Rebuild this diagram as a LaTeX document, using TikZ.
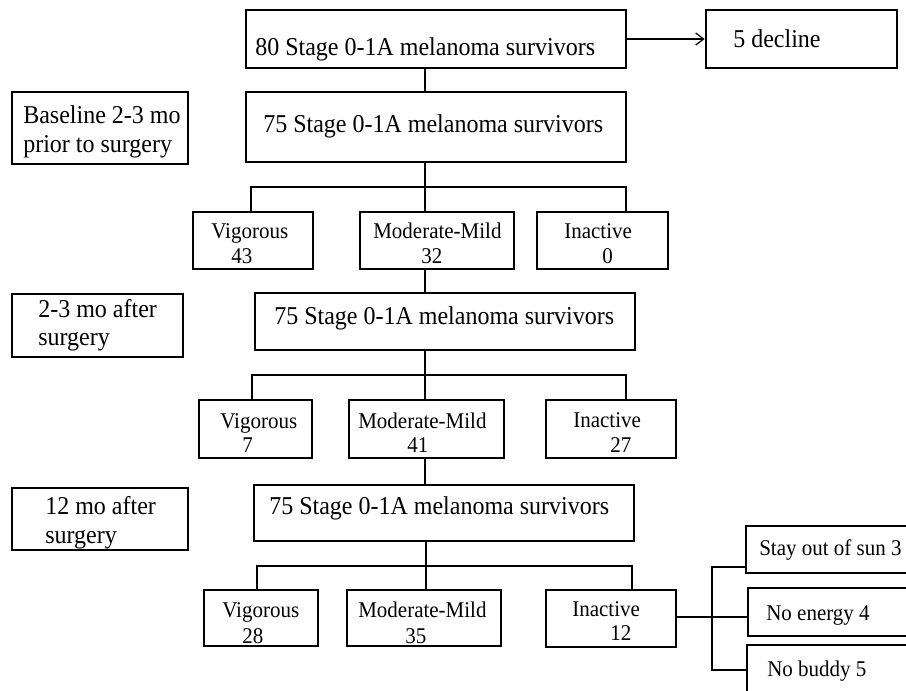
\documentclass[tikz,border=0pt]{standalone}
\usepackage{fontspec}
\usepackage{graphicx}
\setmainfont{Liberation Serif}
\usetikzlibrary{arrows.meta}
\newcommand\talltext[1]{\scalebox{1}[1.07]{#1}}
\begin{document}
\begin{tikzpicture}[x=0.75pt,y=-0.75pt,
  box/.style n args={2}{draw, line width=1.9pt, inner sep=0pt, minimum width=#1*0.75pt, minimum height=#2*0.75pt},
  conn/.style={line width=0.95pt},
  bigtxt/.style={anchor=base west, inner sep=0pt, font=\fontsize{18pt}{21pt}\selectfont},
  smalltxt/.style={anchor=base west, inner sep=0pt, font=\fontsize{15.75pt}{19pt}\selectfont}]
\useasboundingbox[fill=white] (0,0) rectangle (906,690);

% boxes
\node[box={380}{58}] (A) at (436,39) {};
\node[box={191}{58}] (decl) at (801.5,39) {};
\node[box={380}{70}] (B) at (436,127) {};
\node[box={176}{72}] (base) at (100,128) {};
\node[box={120}{57}] (V1) at (253,240.5) {};
\node[box={154}{57}] (M1) at (437,240.5) {};
\node[box={131}{57}] (I1) at (602.5,240.5) {};
\node[box={380}{57}] (C) at (445,321.5) {};
\node[box={171}{63}] (aft23) at (97.5,325.5) {};
\node[box={113}{58}] (V2) at (255.5,429) {};
\node[box={155}{58}] (M2) at (426.5,429) {};
\node[box={130}{58}] (I2) at (611,429) {};
\node[box={380}{56}] (D) at (444,513) {};
\node[box={176}{62}] (aft12) at (100,519) {};
\node[box={114}{56}] (V3) at (261,618) {};
\node[box={154}{56}] (M3) at (424,618) {};
\node[box={130}{57}] (I3) at (611,618.5) {};
\node[box={214}{47}] (R1) at (853,549.5) {};
\node[box={212}{48}] (R2) at (854,612) {};
\node[box={213}{55}] (R3) at (853.5,672.5) {};

% texts
\node[bigtxt] (tA) at (255,55) {\talltext{80 Stage 0-1A melanoma survivors}};
\node[bigtxt] (tdecl) at (733,47) {\talltext{5 decline}};
\node[bigtxt] (tB) at (263,132) {\talltext{75 Stage 0-1A melanoma survivors}};
\node[bigtxt] (tbase1) at (23,123) {\talltext{Baseline 2-3 mo}};
\node[bigtxt] (tbase2) at (23,152) {\talltext{prior to surgery}};
\node[smalltxt] (tV1a) at (211,238) {\talltext{Vigorous}};
\node[smalltxt] (tV1b) at (231,263) {\talltext{43}};
\node[smalltxt] (tM1a) at (373,238) {\talltext{Moderate-Mild}};
\node[smalltxt] (tM1b) at (421,263) {\talltext{32}};
\node[smalltxt] (tI1a) at (564,238) {\talltext{Inactive}};
\node[smalltxt] (tI1b) at (602,263) {\talltext{0}};
\node[bigtxt] (tC) at (274,324) {\talltext{75 Stage 0-1A melanoma survivors}};
\node[bigtxt] (ta1) at (38,317) {\talltext{2-3 mo after}};
\node[bigtxt] (ta2) at (38,345) {\talltext{surgery}};
\node[smalltxt] (tV2a) at (220,428) {\talltext{Vigorous}};
\node[smalltxt] (tV2b) at (242,452) {\talltext{7}};
\node[smalltxt] (tM2a) at (358,428) {\talltext{Moderate-Mild}};
\node[smalltxt] (tM2b) at (407,452) {\talltext{41}};
\node[smalltxt] (tI2a) at (573,427) {\talltext{Inactive}};
\node[smalltxt] (tI2b) at (610,452) {\talltext{27}};
\node[bigtxt] (tD) at (269,514) {\talltext{75 Stage 0-1A melanoma survivors}};
\node[bigtxt] (tb1) at (45,514) {\talltext{12 mo after}};
\node[bigtxt] (tb2) at (45,543) {\talltext{surgery}};
\node[smalltxt] (tV3a) at (222,617) {\talltext{Vigorous}};
\node[smalltxt] (tV3b) at (242,643) {\talltext{28}};
\node[smalltxt] (tM3a) at (358,617) {\talltext{Moderate-Mild}};
\node[smalltxt] (tM3b) at (405,643) {\talltext{35}};
\node[smalltxt] (tI3a) at (572,616) {\talltext{Inactive}};
\node[smalltxt] (tI3b) at (610,640) {\talltext{12}};
\node[smalltxt] (tR1) at (759,555) {\talltext{Stay out of sun 3}};
\node[smalltxt] (tR2) at (766,620) {\talltext{No energy 4}};
\node[smalltxt] (tR3) at (767,676) {\talltext{No buddy 5}};

% junction coordinates
\coordinate (k1L) at (251,187);
\coordinate (k1M) at (425,187);
\coordinate (k1R) at (626,187);
\coordinate (k2L) at (252,375);
\coordinate (k2M) at (425,375);
\coordinate (k2R) at (626,375);
\coordinate (k3L) at (257,566);
\coordinate (k3M) at (426,566);
\coordinate (k3R) at (632,566);
\coordinate (kr) at (712,617);
\coordinate (kt) at (712,567);
\coordinate (kb) at (712,670);

% connectors
\draw[conn, -{Straight Barb[length=6pt,width=9pt]}] (A.east) -- (decl.west);
\draw[conn] (A.south -| k1M) -- (B.north -| k1M);
\draw[conn] (B.south -| k1M) -- (M1.north -| k1M);
\draw[conn] (V1.north -| k1L) -- (k1L) -- (k1R) -- (I1.north -| k1R);
\draw[conn] (M1.south -| k1M) -- (C.north -| k1M);
\draw[conn] (C.south -| k2M) -- (M2.north -| k2M);
\draw[conn] (V2.north -| k2L) -- (k2L) -- (k2R) -- (I2.north -| k2R);
\draw[conn] (M2.south -| k2M) -- (D.north -| k2M);
\draw[conn] (D.south -| k3M) -- (M3.north -| k3M);
\draw[conn] (V3.north -| k3L) -- (k3L) -- (k3R) -- (I3.north -| k3R);
\draw[conn] (I3.east |- kr) -- (R2.west |- kr);
\draw[conn] (R1.west |- kt) -- (kt) -- (kb) -- (R3.west |- kb);
\end{tikzpicture}
\end{document}
